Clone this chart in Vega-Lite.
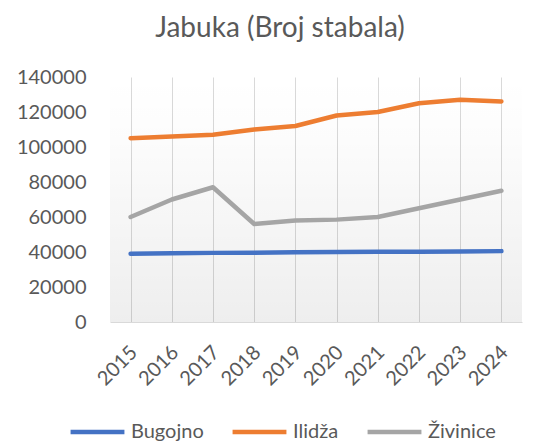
{
  "$schema": "https://vega.github.io/schema/vega-lite/v6.json",
  "width": 412,
  "height": 245,
  "autosize": "none",
  "padding": {"left": 110, "top": 77, "right": 14, "bottom": 122},
  "background": "white",
  "config": {
    "font": "Lato",
    "view": {"stroke": null}
  },
  "title": {
    "text": "Jabuka (Broj stabala)",
    "fontSize": 28,
    "fontWeight": "normal",
    "color": "#595959",
    "font": "Lato",
    "anchor": "middle",
    "dx": -36,
    "offset": 24
  },
  "data": {
    "values": [
      {"Godina": "2015", "Opcina": "Bugojno", "Broj": 39000},
      {"Godina": "2016", "Opcina": "Bugojno", "Broj": 39300},
      {"Godina": "2017", "Opcina": "Bugojno", "Broj": 39500},
      {"Godina": "2018", "Opcina": "Bugojno", "Broj": 39600},
      {"Godina": "2019", "Opcina": "Bugojno", "Broj": 39800},
      {"Godina": "2020", "Opcina": "Bugojno", "Broj": 40000},
      {"Godina": "2021", "Opcina": "Bugojno", "Broj": 40100},
      {"Godina": "2022", "Opcina": "Bugojno", "Broj": 40200},
      {"Godina": "2023", "Opcina": "Bugojno", "Broj": 40300},
      {"Godina": "2024", "Opcina": "Bugojno", "Broj": 40500},
      {"Godina": "2015", "Opcina": "Ilidža", "Broj": 105000},
      {"Godina": "2016", "Opcina": "Ilidža", "Broj": 106000},
      {"Godina": "2017", "Opcina": "Ilidža", "Broj": 107000},
      {"Godina": "2018", "Opcina": "Ilidža", "Broj": 110000},
      {"Godina": "2019", "Opcina": "Ilidža", "Broj": 112000},
      {"Godina": "2020", "Opcina": "Ilidža", "Broj": 118000},
      {"Godina": "2021", "Opcina": "Ilidža", "Broj": 120000},
      {"Godina": "2022", "Opcina": "Ilidža", "Broj": 125000},
      {"Godina": "2023", "Opcina": "Ilidža", "Broj": 127000},
      {"Godina": "2024", "Opcina": "Ilidža", "Broj": 126000},
      {"Godina": "2015", "Opcina": "Živinice", "Broj": 60000},
      {"Godina": "2016", "Opcina": "Živinice", "Broj": 70000},
      {"Godina": "2017", "Opcina": "Živinice", "Broj": 77000},
      {"Godina": "2018", "Opcina": "Živinice", "Broj": 56000},
      {"Godina": "2019", "Opcina": "Živinice", "Broj": 58000},
      {"Godina": "2020", "Opcina": "Živinice", "Broj": 58500},
      {"Godina": "2021", "Opcina": "Živinice", "Broj": 60000},
      {"Godina": "2022", "Opcina": "Živinice", "Broj": 65000},
      {"Godina": "2023", "Opcina": "Živinice", "Broj": 70000},
      {"Godina": "2024", "Opcina": "Živinice", "Broj": 75000}
    ]
  },
  "layer": [
    {
      "data": {"values": [{"bg": 1}]},
      "mark": {
        "type": "rect",
        "color": {
          "gradient": "linear",
          "x1": 0, "y1": 0, "x2": 0, "y2": 1,
          "stops": [
            {"offset": 0, "color": "rgba(0,0,0,0)"},
            {"offset": 0.25, "color": "rgba(0,0,0,0.01)"},
            {"offset": 1, "color": "rgba(0,0,0,0.065)"}
          ]
        }
      },
      "encoding": {}
    },
    {
      "mark": {"type": "line", "strokeWidth": 4.5, "strokeCap": "round", "strokeJoin": "round"},
      "encoding": {
        "x": {
          "field": "Godina",
          "type": "ordinal",
          "scale": {"type": "point", "padding": 0.5},
          "axis": {
            "title": null,
            "labelAngle": -45,
            "labelFontSize": 20,
            "labelColor": "#595959",
            "labelFont": "Lato",
            "labelPadding": 20,
            "labelOffset": -4,
            "ticks": false,
            "domainColor": "#d9d9d9",
            "domainWidth": 1,
            "grid": true,
            "gridColor": "#d9d9d9",
            "gridWidth": 1
          }
        },
        "y": {
          "field": "Broj",
          "type": "quantitative",
          "scale": {"domain": [0, 140000], "nice": false},
          "axis": {
            "title": null,
            "values": [0, 20000, 40000, 60000, 80000, 100000, 120000, 140000],
            "format": "d",
            "labelFontSize": 20,
            "labelColor": "#595959",
            "labelFont": "Lato",
            "labelPadding": 24,
            "ticks": false,
            "domain": false,
            "grid": false
          }
        },
        "color": {
          "field": "Opcina",
          "type": "nominal",
          "scale": {"domain": ["Bugojno", "Ilidža", "Živinice"], "range": ["#4472C4", "#ED7D31", "#A5A5A5"]},
          "legend": {
            "title": null,
            "orient": "none",
            "legendX": -42,
            "legendY": 343,
            "direction": "horizontal",
            "symbolType": "stroke",
            "symbolSize": 2900,
            "symbolStrokeWidth": 4.5,
            "labelFontSize": 20,
            "labelColor": "#595959",
            "labelFont": "Lato",
            "labelOffset": 4,
            "labelLimit": 0,
            "columnPadding": 26,
            "clipHeight": 24
          }
        }
      }
    }
  ]
}
